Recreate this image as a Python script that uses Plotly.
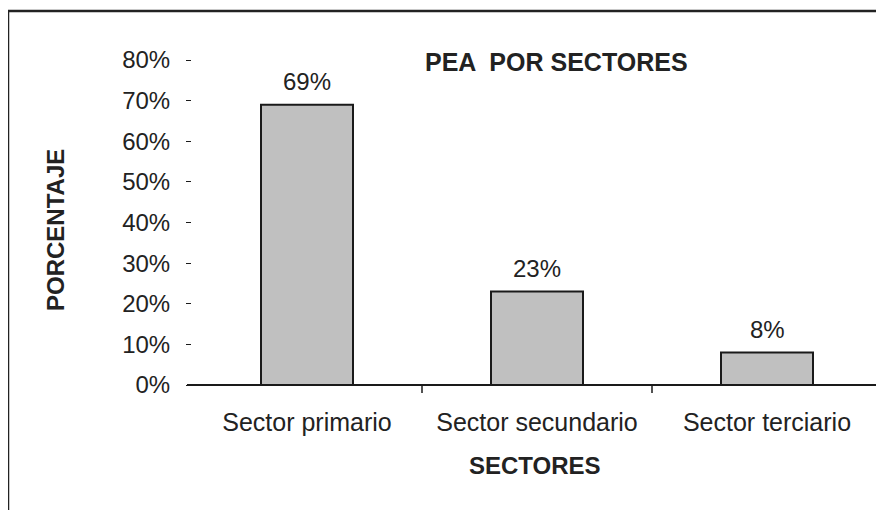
import plotly.graph_objects as go

categories = ["Sector primario", "Sector secundario", "Sector terciario"]
values = [69, 23, 8]
value_labels = ["69%", "23%", "8%"]
y_ticks = [0, 10, 20, 30, 40, 50, 60, 70, 80]
y_tick_labels = [f"{v}%" for v in y_ticks]

W, H = 884, 510
OFF = 8  # page body margin offset
# plot area in page pixels: x 192..882, y 60..385
PL, PR, PT, PB = 192, 882, 60, 385
L = PL - OFF
T = PT - OFF
R = W - (PR - OFF)
B = H - (PB - OFF)
PW, PH = W - L - R, H - T - B

def px_x(x):
    return (x - PL) / PW

def px_y(y):
    return (PB - y) / PH

TXT = "#222222"
AX = "#1a1a1a"
FONT = "Liberation Sans, Arial, sans-serif"

fig = go.Figure()
fig.add_trace(go.Bar(
    x=categories, y=values, width=0.4,
    marker=dict(color="#c0c0c0", line=dict(color=AX, width=2)),
    hoverinfo="skip",
))

annotations = []
for c, v, t in zip(categories, values, value_labels):
    annotations.append(dict(x=c, y=v, xref="x", yref="y", text=t, showarrow=False,
                            yshift=23, yanchor="middle", font=dict(size=24, color=TXT, family=FONT)))

annotations.append(dict(x=px_x(556), y=px_y(62), xref="paper", yref="paper",
                        text="<b>PEA  POR SECTORES</b>", showarrow=False,
                        xanchor="center", yanchor="middle",
                        font=dict(size=25, color=TXT, family=FONT)))
annotations.append(dict(x=px_x(535), y=px_y(465), xref="paper", yref="paper",
                        text="<b>SECTORES</b>", showarrow=False,
                        xanchor="center", yanchor="middle",
                        font=dict(size=24, color=TXT, family=FONT)))
annotations.append(dict(x=px_x(56), y=px_y(230), xref="paper", yref="paper",
                        text="<b>PORCENTAJE</b>", showarrow=False, textangle=-90,
                        xanchor="center", yanchor="middle",
                        font=dict(size=24, color=TXT, family=FONT)))

shapes = [
    # outer frame (top and left edges visible)
    dict(type="line", xref="paper", yref="paper", x0=px_x(8), x1=px_x(900),
         y0=px_y(11), y1=px_y(11), line=dict(color="#222222", width=2.5)),
    dict(type="line", xref="paper", yref="paper", x0=px_x(8), x1=px_x(8),
         y0=px_y(11), y1=px_y(530), line=dict(color="#222222", width=2.5)),
    # x-axis line extending slightly left of the plot
    dict(type="line", xref="paper", yref="paper", x0=px_x(187), x1=1,
         y0=0, y1=0, line=dict(color=AX, width=2)),
]
# category boundary tick marks (between categories and at the right end)
for b in [0.5, 1.5, 2.5]:
    shapes.append(dict(type="line", xref="x", yref="paper", x0=b, x1=b,
                       y0=0, y1=px_y(393), line=dict(color=AX, width=1.5)))

fig.update_layout(
    width=W, height=H,
    margin=dict(l=L, r=R, t=T, b=B),
    paper_bgcolor="white", plot_bgcolor="white",
    showlegend=False,
    annotations=annotations,
    shapes=shapes,
    font=dict(family=FONT, color=TXT),
)
fig.update_xaxes(
    type="category", showgrid=False, zeroline=False,
    showline=False, ticks="", ticklen=8,
    tickfont=dict(size=25, color=TXT, family=FONT), ticklabelstandoff=20,
    range=[-0.5, 2.5],
)
fig.update_yaxes(
    range=[0, 80], tickvals=y_ticks, ticktext=y_tick_labels,
    showgrid=False, zeroline=False, showline=False,
    ticks="outside", ticklen=5, tickcolor=AX, tickwidth=1,
    tickfont=dict(size=24, color=TXT, family=FONT), ticklabelstandoff=11,
)

fig.write_html("out.html")
